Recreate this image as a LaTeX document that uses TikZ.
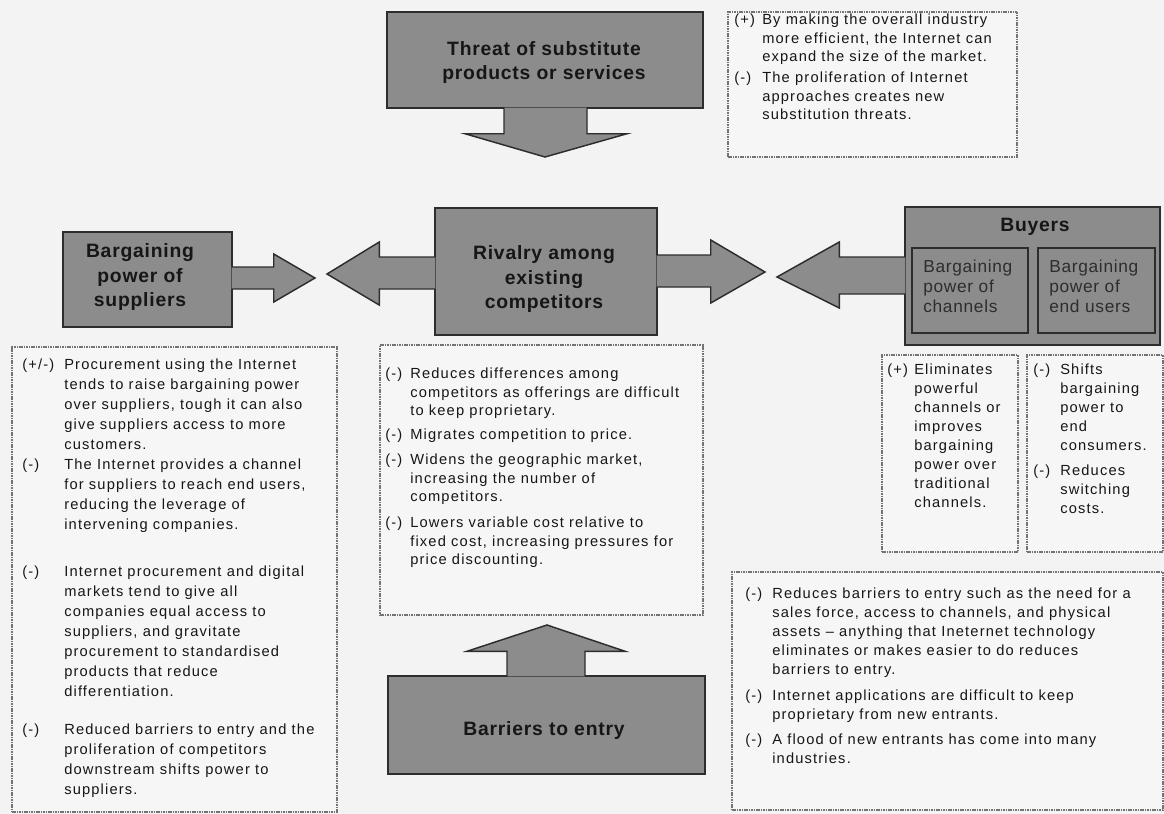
\documentclass[tikz,border=0pt]{standalone}
\usepackage{fontspec}
\setmainfont{Liberation Sans}
\newfontfamily\notefont[LetterSpace=8]{Liberation Sans}
\newfontfamily\headfont[LetterSpace=4]{Liberation Sans}
\usetikzlibrary{calc}

\definecolor{pagebg}{RGB}{243,243,243}
\definecolor{forcefill}{RGB}{140,140,140}
\definecolor{forceline}{RGB}{45,45,45}
\definecolor{noteline}{RGB}{115,115,115}
\definecolor{notefill}{RGB}{246,246,246}
\definecolor{ink}{RGB}{22,22,22}
\definecolor{subink}{RGB}{45,45,45}

\begin{document}
\begin{tikzpicture}[x=0.75pt,y=-0.75pt,
  forcebox/.style={draw=forceline,fill=forcefill,line width=1.1pt,inner sep=0pt},
  blockarrow/.style={draw=forceline,fill=forcefill,line width=1.1pt,line join=miter},
  headtxt/.style={inner sep=0pt,align=center,text=ink,font=\headfont\bfseries\fontsize{14.5}{18.5}\selectfont},
  subbox/.style={draw=forceline,fill=forcefill,line width=0.9pt,inner sep=0pt},
  subtxt/.style={anchor=north west,inner sep=0pt,align=left,text=subink,font=\headfont\fontsize{13}{15}\selectfont},
  notebox/.style={draw=noteline,fill=notefill,line width=0.8pt,dash pattern=on 1.2pt off 0.6pt,inner sep=0pt},
  notelbl/.style={anchor=north west,inner sep=0pt,text=ink,font=\notefont\fontsize{11}{13.875}\selectfont},
  notetxt/.style={anchor=north west,inner sep=0pt,align=left,text=ink,font=\notefont\fontsize{11}{#1}\selectfont},
  notetxt/.default=13.875]

% canvas
\useasboundingbox (0,0) rectangle (1164,814);
\fill[pagebg] (0,0) rectangle (1164,814);

% ---------- note boxes ----------
\node[notebox,minimum width=216.75pt,minimum height=108.75pt] (subnote) at (872.5,84.5) {};
\node[notebox,minimum width=243.75pt,minimum height=348.75pt] (supnote) at (174.5,579.5) {};
\node[notebox,minimum width=242.25pt,minimum height=202.5pt] (rivnote) at (541.5,480) {};
\node[notebox,minimum width=102pt,minimum height=147.75pt] (chnote) at (950,453.5) {};
\node[notebox,minimum width=102pt,minimum height=147.75pt] (eunote) at (1095,453.5) {};
\node[notebox,minimum width=323.25pt,minimum height=178.5pt] (barnote) at (947.5,691) {};

% ---------- the five forces ----------
\node[forcebox,minimum width=237pt,minimum height=72pt] (threat) at (545,60) {};
\node[forcebox,minimum width=126.75pt,minimum height=71.25pt] (sup) at (147.5,279.5) {};
\node[forcebox,minimum width=166.5pt,minimum height=95.25pt] (rival) at (546,271.5) {};
\node[forcebox,minimum width=191.25pt,minimum height=103.5pt] (buy) at (1032.5,276) {};
\node[forcebox,minimum width=237.75pt,minimum height=73.5pt] (bar) at (546.5,725) {};
\node[subbox,minimum width=87pt,minimum height=63.75pt] (chan) at (970,290.5) {};
\node[subbox,minimum width=87.75pt,minimum height=63.75pt] (endu) at (1096.5,290.5) {};

% arrow tips
\coordinate (threat tip) at (545,157);
\coordinate (sup tip) at (315,278);
\coordinate (rivL tip) at (327,274);
\coordinate (rivR tip) at (765,272);
\coordinate (buy tip) at (777,277);
\coordinate (bar tip) at (547,625);

% block arrows leaving the boxes
\filldraw[blockarrow] ($(threat.south)+(-41,-1)$) -- ($(threat.south)+(-41,25)$)
  -- ($(threat.south)+(-80,25)$) -- (threat tip) -- ($(threat.south)+(82,25)$)
  -- ($(threat.south)+(42,25)$) -- ($(threat.south)+(42,-1)$);
\filldraw[blockarrow] ($(sup.east)+(-1,-12.5)$) -- ($(sup.east)+(41,-12.5)$)
  -- ($(sup.east)+(41,-25.5)$) -- (sup tip) -- ($(sup.east)+(41,22.5)$)
  -- ($(sup.east)+(41,9.5)$) -- ($(sup.east)+(-1,9.5)$);
\filldraw[blockarrow] ($(rival.west)+(1,-14.5)$) -- ($(rival.west)+(-55,-14.5)$)
  -- ($(rival.west)+(-55,-29.5)$) -- (rivL tip) -- ($(rival.west)+(-55,33.5)$)
  -- ($(rival.west)+(-55,17.5)$) -- ($(rival.west)+(1,17.5)$);
\filldraw[blockarrow] ($(rival.east)+(-1,-16.5)$) -- ($(rival.east)+(53,-16.5)$)
  -- ($(rival.east)+(53,-31.5)$) -- (rivR tip) -- ($(rival.east)+(53,31.5)$)
  -- ($(rival.east)+(53,15.5)$) -- ($(rival.east)+(-1,15.5)$);
\filldraw[blockarrow] ($(buy.west)+(1,-19)$) -- ($(buy.west)+(-65,-19)$)
  -- ($(buy.west)+(-65,-34)$) -- (buy tip) -- ($(buy.west)+(-65,32)$)
  -- ($(buy.west)+(-65,18)$) -- ($(buy.west)+(1,18)$);
\filldraw[blockarrow] ($(bar.north)+(-39.5,1)$) -- ($(bar.north)+(-39.5,-24)$)
  -- ($(bar.north)+(-79.5,-24)$) -- (bar tip) -- ($(bar.north)+(78.5,-24)$)
  -- ($(bar.north)+(38.5,-24)$) -- ($(bar.north)+(38.5,1)$);

% force titles
\node[headtxt] (threat txt) at (544,62.5) {Threat of substitute\\products or services};
\node[headtxt] (sup txt) at (140,277) {Bargaining\\power of\\suppliers};
\node[headtxt] (rival txt) at (544,279) {Rivalry among\\existing\\competitors};
\node[headtxt] (buy txt) at (1035,227) {Buyers};
\node[headtxt] (bar txt) at (544,730) {Barriers to entry};
\node[subtxt] (chan txt) at (923,260) {Bargaining\\power of\\channels};
\node[subtxt] (endu txt) at (1049,260) {Bargaining\\power of\\end users};

% ---------- substitutes ----------
\node[notelbl] (s1l) at (734,14) {(+)};
\node[notetxt] (s1) at (762,14) {By making the overall industry\\more efficient, the Internet can\\expand the size of the market.};
\node[notelbl] (s2l) at (734,72) {(-)};
\node[notetxt] (s2) at (762,72) {The proliferation of Internet\\approaches creates new\\substitution threats.};

% ---------- suppliers ----------
\node[notelbl] (p1l) at (22,359) {(+/-)};
\node[notetxt=15] (p1) at (64,359) {Procurement using the Internet\\tends to raise bargaining power\\over suppliers, tough it can also\\give suppliers access to more\\customers.};
\node[notelbl] (p2l) at (22,459) {(-)};
\node[notetxt=15] (p2) at (64,459) {The Internet provides a channel\\for suppliers to reach end users,\\reducing the leverage of\\intervening companies.};
\node[notelbl] (p3l) at (22,566) {(-)};
\node[notetxt=15] (p3) at (64,566) {Internet procurement and digital\\markets tend to give all\\companies equal access to\\suppliers, and gravitate\\procurement to standardised\\products that reduce\\differentiation.};
\node[notelbl] (p4l) at (22,724) {(-)};
\node[notetxt=15] (p4) at (64,724) {Reduced barriers to entry and the\\proliferation of competitors\\downstream shifts power to\\suppliers.};

% ---------- rivalry ----------
\node[notelbl] (r1l) at (385,368) {(-)};
\node[notetxt] (r1) at (410,368) {Reduces differences among\\competitors as offerings are difficult\\to keep proprietary.};
\node[notelbl] (r2l) at (385,429) {(-)};
\node[notetxt] (r2) at (410,429) {Migrates competition to price.};
\node[notelbl] (r3l) at (385,454) {(-)};
\node[notetxt] (r3) at (410,454) {Widens the geographic market,\\increasing the number of\\competitors.};
\node[notelbl] (r4l) at (385,517) {(-)};
\node[notetxt] (r4) at (410,517) {Lowers variable cost relative to\\fixed cost, increasing pressures for\\price discounting.};

% ---------- buyers ----------
\node[notelbl] (c1l) at (887,364) {(+)};
\node[notetxt=14.25] (c1) at (914,364) {Eliminates\\powerful\\channels or\\improves\\bargaining\\power over\\traditional\\channels.};
\node[notelbl] (e1l) at (1033,364) {(-)};
\node[notetxt=14.25] (e1) at (1060,364) {Shifts\\bargaining\\power to\\end\\consumers.};
\node[notelbl] (e2l) at (1033,465) {(-)};
\node[notetxt=14.25] (e2) at (1060,465) {Reduces\\switching\\costs.};

% ---------- barriers to entry ----------
\node[notelbl] (b1l) at (745,588) {(-)};
\node[notetxt=14.25] (b1) at (772,588) {Reduces barriers to entry such as the need for a\\sales force, access to channels, and physical\\assets – anything that Ineternet technology\\eliminates or makes easier to do reduces\\barriers to entry.};
\node[notelbl] (b2l) at (745,690) {(-)};
\node[notetxt=14.25] (b2) at (772,690) {Internet applications are difficult to keep\\proprietary from new entrants.};
\node[notelbl] (b3l) at (745,734) {(-)};
\node[notetxt=14.25] (b3) at (772,734) {A flood of new entrants has come into many\\industries.};
\end{tikzpicture}
\end{document}
